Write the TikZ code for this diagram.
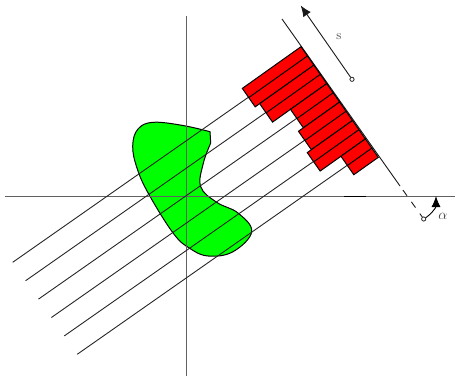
\documentclass[tikz,border=0pt]{standalone}
\usetikzlibrary{arrows.meta,calc}
\definecolor{axisgray}{gray}{0.38}
\tikzset{
  axisline/.style={draw=axisgray,line width=1pt},
  ray/.style={draw=black!85,line width=0.9pt},
  bar/.style={draw=black,fill=red,line width=1pt,line join=miter},
  blob/.style={draw=black,fill=green,line width=1pt},
  pivot/.style={circle,draw=black!85,fill=white,line width=0.8pt,inner sep=0pt,minimum size=4.2pt},
  bigtip/.style={-{Latex[length=11pt,width=9pt]}}
}
\begin{document}
\begin{tikzpicture}[x=1pt,y=-1pt]
\useasboundingbox (0,0) rectangle (455,376);
% object
\draw[blob] plot[smooth,tension=0.65] coordinates {(210,131.7) (183,125.5) (153.3,122.3) (138,129) (132.7,146) (137,168) (148.3,193.3) (173.3,233.3) (190,248.5) (208.3,256) (233,251.7) (251.7,231.7) (238,213) (216.7,202.3) (200.7,186.7) (203.3,163.3) (210.7,143)} -- cycle;
% axes
\coordinate (xl) at (5,196); \coordinate (xr) at (455,196);
\coordinate (yt) at (186,16); \coordinate (yb) at (186,376);
\draw[axisline] (xl) -- (xr);
\draw[axisline] (yt) -- (yb);
\draw[black,line width=1pt] (344,196) -- (366,196);
% detector axis
\coordinate (at) at (282,19);
\coordinate (ae) at (400,186);
\node[pivot] (piv) at (423.7,219) {};
\draw[black!90,line width=0.9pt] (at) -- (ae);
\draw[black!90,line width=0.9pt,dash pattern=on 7pt off 7.5pt,dash phase=-5pt] (ae) -- (piv);
% rays
\foreach \i in {0,...,5}{
  \coordinate (rs\i) at ({12.7+12.9*\i},{262.3+18.4*\i});
  \coordinate (re\i) at ({307.3+12.88*\i},{56+18.44*\i});
  \draw[ray] (rs\i) -- (re\i);
}
% bars: pairs of strips per ray
\foreach \i/\L in {0/72,1/66.5,2/44.5,3/50.5,4/55.5,5/30}{
  \coordinate (ba\i) at ({301+12.88*\i},{46.7+18.44*\i});
  \coordinate (bb\i) at ({307.43+12.88*\i},{55.92+18.44*\i});
  \coordinate (bc\i) at ({313.86+12.88*\i},{65.14+18.44*\i});
  \draw[bar] (ba\i) -- ++({-0.8152*\L},{0.5791*\L}) -- ++(12.87,18.44) -- (bc\i) -- cycle;
  \draw[bar] (bb\i) -- ++({-0.8152*\L},{0.5791*\L});
}
% s arrow
\node[pivot] (sp) at (352,79.3) {};
\coordinate (st) at (300.7,5.5);
\draw[bigtip,black!90,line width=0.9pt] (sp) -- (st);
\node[text=black!75,font=\fontsize{13}{15}\selectfont] (slab) at (339,37) {s};
% alpha arrow
\coordinate (atip) at (436,196);
\draw[bigtip,black,line width=0.9pt] (piv) .. controls (430,215) and (436,208) .. (atip);
\node[text=black!75,font=\fontsize{14}{16}\selectfont] (alab) at (443,216) {$\alpha$};
\end{tikzpicture}
\end{document}
